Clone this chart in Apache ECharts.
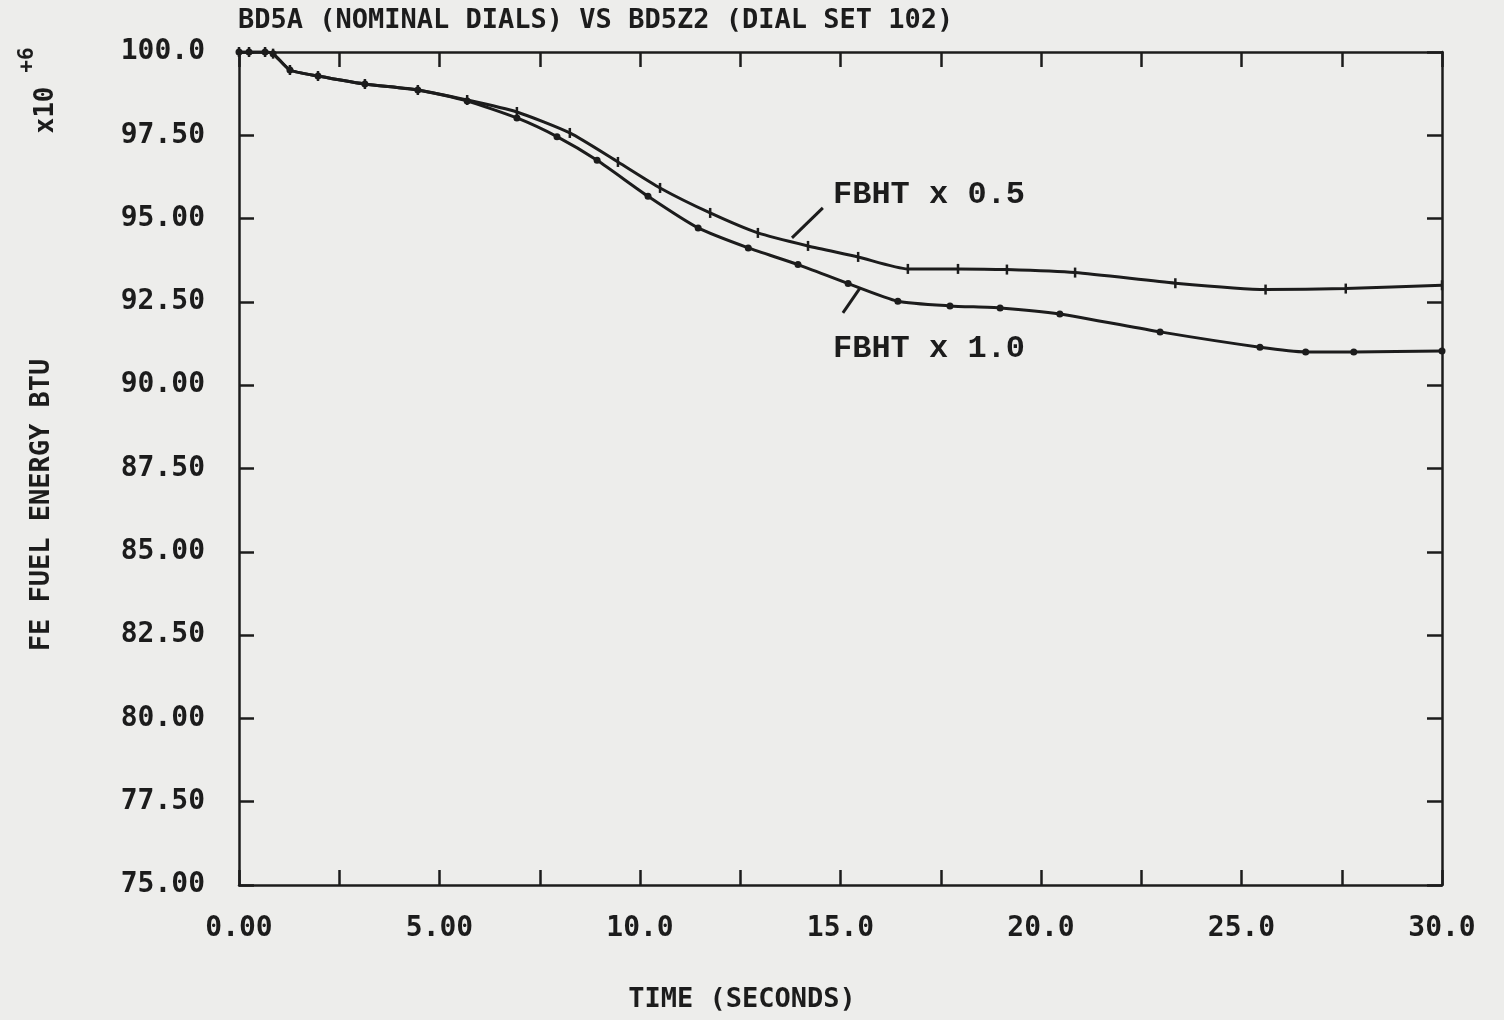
<!DOCTYPE html>
<html>
<head>
<meta charset="utf-8">
<script src="https://cdn.jsdelivr.net/npm/echarts@6/dist/echarts.min.js"></script>
<style>
html,body{margin:0;padding:0;background:#ededeb;}
#chart{width:1504px;height:1020px;}
</style>
</head>
<body>
<div id="chart"></div>
<script>
// FBHT x 1.0 (dots)
const time10 = [0, 0.25, 0.65, 0.85, 1.27, 1.97, 3.14, 4.46, 5.69, 6.93, 7.93, 8.93, 10.2, 11.45, 12.7, 13.94, 15.19, 16.43, 17.73, 18.98, 20.47, 22.97, 25.46, 26.6, 27.8, 30];
const fe10 = [100, 100, 100, 99.95, 99.46, 99.28, 99.04, 98.86, 98.53, 98.02, 97.46, 96.75, 95.67, 94.72, 94.12, 93.62, 93.05, 92.52, 92.38, 92.32, 92.14, 91.6, 91.14, 91.0, 91.0, 91.03];
// FBHT x 0.5 (tick marks)
const time05 = [0, 0.25, 0.65, 0.85, 1.27, 1.97, 3.14, 4.46, 5.69, 6.93, 8.25, 9.45, 10.5, 11.75, 12.94, 14.19, 15.44, 16.68, 17.93, 19.15, 20.85, 23.35, 25.6, 27.6, 30];
const fe05 = [100, 100, 100, 99.95, 99.46, 99.28, 99.04, 98.86, 98.56, 98.2, 97.57, 96.7, 95.92, 95.17, 94.57, 94.18, 93.85, 93.49, 93.49, 93.47, 93.38, 93.06, 92.87, 92.9, 93.0];
// leader lines in data coordinates
const leader05 = [[13.79, 94.42], [14.56, 95.32]];
const leader10 = [[15.06, 92.17], [15.49, 92.92]];

const titleText = 'BD5A (NOMINAL DIALS) VS BD5Z2 (DIAL SET 102)';
const xName = 'TIME (SECONDS)';
const yName = 'FE FUEL ENERGY BTU';

const ink = '#1c1c1c';
const mono = '"DejaVu Sans Mono", monospace';

function xFmt(v) {
  if (Math.abs(v % 5) > 1e-6) return '';
  return v < 10 ? v.toFixed(2) : v.toFixed(1);
}
function yFmt(v) {
  return v >= 100 ? v.toFixed(1) : v.toFixed(2);
}
function zip(a, b) { return a.map((t, i) => [t, b[i]]); }

const chart = echarts.init(document.getElementById('chart'));
const axisLine = { show: true, onZero: false, lineStyle: { color: ink, width: 2.5 } };
const axisTick = { show: true, inside: true, length: 15, lineStyle: { color: ink, width: 2.5 } };

chart.setOption({
  backgroundColor: '#ededeb',
  animation: false,
  grid: { left: 239, right: 62, top: 52, bottom: 135, containLabel: false },
  xAxis: [
    {
      type: 'value', min: 0, max: 30, interval: 2.5, position: 'bottom',
      axisLine, axisTick, splitLine: { show: false },
      axisLabel: { formatter: xFmt, margin: 30, color: ink, fontFamily: mono, fontSize: 28, fontWeight: 'bold' }
    },
    {
      type: 'value', min: 0, max: 30, interval: 2.5, position: 'top',
      axisLine, axisTick, splitLine: { show: false }, axisLabel: { show: false }
    }
  ],
  yAxis: [
    {
      type: 'value', min: 75, max: 100, interval: 2.5, position: 'left',
      axisLine, axisTick, splitLine: { show: false },
      axisLabel: { formatter: yFmt, margin: 34, color: ink, fontFamily: mono, fontSize: 28, fontWeight: 'bold' }
    },
    {
      type: 'value', min: 75, max: 100, interval: 2.5, position: 'right',
      axisLine, axisTick, splitLine: { show: false }, axisLabel: { show: false }
    }
  ],
  series: [
    {
      name: 'FBHT x 1.0', type: 'line', data: zip(time10, fe10), smooth: 0.2,
      symbol: 'circle', symbolSize: 7, showSymbol: true,
      lineStyle: { color: ink, width: 3 }, itemStyle: { color: ink, borderWidth: 0 },
      markLine: {
        silent: true, symbol: 'none', label: { show: false },
        lineStyle: { color: ink, width: 3, type: 'solid' },
        data: [[{ coord: leader10[0] }, { coord: leader10[1] }]]
      }
    },
    {
      name: 'FBHT x 0.5', type: 'line', data: zip(time05, fe05), smooth: 0.2,
      symbol: 'rect', symbolSize: [2.5, 10], showSymbol: true,
      lineStyle: { color: ink, width: 3 }, itemStyle: { color: ink, borderWidth: 0 },
      markLine: {
        silent: true, symbol: 'none', label: { show: false },
        lineStyle: { color: ink, width: 3, type: 'solid' },
        data: [[{ coord: leader05[0] }, { coord: leader05[1] }]]
      }
    }
  ],
  graphic: [
    { type: 'text', left: 238, top: 7, style: { text: titleText, fill: ink, font: 'bold 27px ' + mono } },
    { type: 'text', x: 742, y: 1000, style: { text: xName, fill: ink, font: 'bold 27px ' + mono, align: 'center', verticalAlign: 'middle' } },
    { type: 'text', x: 42, y: 505, rotation: Math.PI / 2, style: { text: yName, fill: ink, font: 'bold 27px ' + mono, align: 'center', verticalAlign: 'middle' } },
    { type: 'text', left: 833, top: 179, style: { text: 'FBHT x 0.5', fill: ink, font: 'bold 32px "Liberation Mono", monospace' } },
    { type: 'text', left: 833, top: 333, style: { text: 'FBHT x 1.0', fill: ink, font: 'bold 32px "Liberation Mono", monospace' } },
    { type: 'text', x: 46, y: 110, rotation: Math.PI / 2, style: { text: 'x10', fill: ink, font: 'bold 26px ' + mono, align: 'center', verticalAlign: 'middle' } },
    { type: 'text', x: 28, y: 60, rotation: Math.PI / 2, style: { text: '+6', fill: ink, font: 'bold 21px ' + mono, align: 'center', verticalAlign: 'middle' } }
  ]
});
</script>
</body>
</html>
